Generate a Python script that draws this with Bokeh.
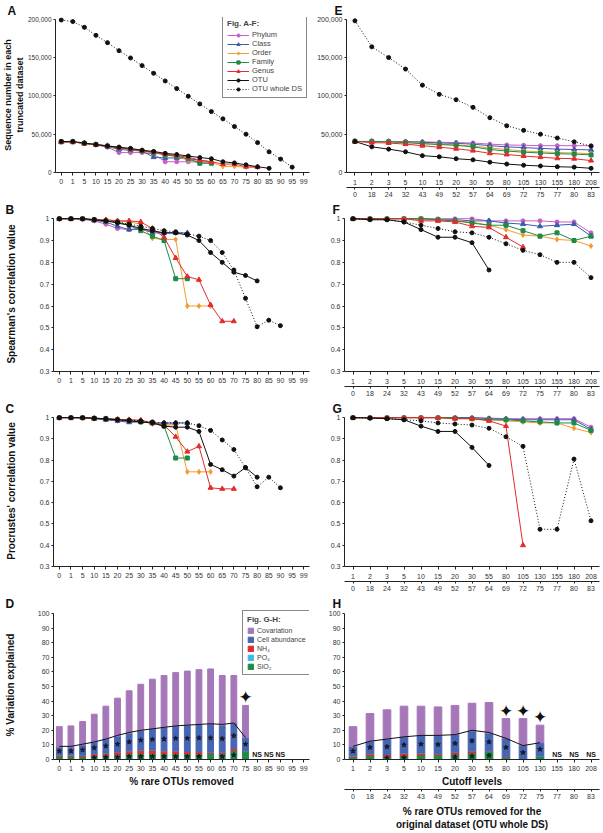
import math
from bokeh.plotting import figure
from bokeh.layouts import column, row
from bokeh.models import (FactorRange, Range1d, CategoricalAxis, FixedTicker,
                          NumeralTickFormatter, Legend, LegendItem, ColumnDataSource)
from bokeh.core.properties import value
from bokeh.embed import file_html
from bokeh.resources import INLINE

FONT = "Liberation Sans"

# ---------------- categories / tick labels ----------------
left_cats = ["0", "1", "5", "10", "15", "20", "25", "30", "35", "40", "45", "50",
             "55", "60", "65", "70", "75", "80", "85", "90", "95", "99"]
cutoff_cats = ["1", "2", "3", "5", "10", "15", "20", "30", "55", "80", "105",
               "130", "155", "180", "208"]
pct_removed = ["0", "18", "24", "32", "43", "49", "52", "57", "64", "69", "72",
               "75", "77", "80", "83"]

# ---------------- A: sequence numbers (left) ----------------
A_phylum = [40000, 40000, 38000, 36000, 33000, 26000, 26000, 26000, 24000, 14000, 14000, 14000, 13500, 13000]
A_class = [40000, 40000, 38000, 36000, 34000, 30000, 29000, 28000, 20000, 19000, 19000, 18000, 16000, 14000]
A_order = [40000, 40000, 38000, 36500, 34500, 32000, 30000, 28000, 26000, 23000, 21000, 16000, 15000, 13000, 8000, 8000, 7000, 7000]
A_family = [40000, 40000, 38000, 36500, 34500, 32000, 30000, 28000, 26000, 23000, 21000, 18000, 12000, 12000]
A_genus = [40000, 40000, 38000, 36500, 35000, 32500, 30500, 28500, 26500, 24000, 22000, 20000, 16000, 14000, 11000, 11000, 7500, 7000]
A_otu = [40500, 40500, 38500, 36500, 34500, 33000, 31500, 29000, 27500, 25000, 23500, 21500, 19500, 18000, 14000, 12500, 10000, 7500, 5500]
A_whole = [199000, 197000, 189500, 179000, 169500, 159000, 149500, 139500, 129500, 119500, 109500,
           99500, 89500, 79500, 70000, 60000, 50000, 39000, 27000, 17500, 7000]

# ---------------- B: Spearman (left) ----------------
B_phylum = [1, 1, 0.998, 0.99, 0.975, 0.955, 0.95, 0.95, 0.94, 0.935, 0.935]
B_class = [1, 1, 0.998, 0.992, 0.985, 0.965, 0.95, 0.955, 0.935, 0.935, 0.935, 0.935]
B_order = [1, 1, 1, 0.995, 0.995, 0.99, 0.985, 0.975, 0.91, 0.905, 0.905, 0.60, 0.60, 0.60]
B_family = [1, 1, 1, 0.995, 0.99, 0.985, 0.97, 0.945, 0.92, 0.90, 0.725, 0.725]
B_genus = [1, 1, 1, 0.995, 0.995, 0.99, 0.99, 0.985, 0.955, 0.915, 0.82, 0.735, 0.72, 0.605, 0.53, 0.53]
B_otu = [1, 1, 1, 0.995, 0.99, 0.98, 0.97, 0.955, 0.945, 0.935, 0.935, 0.925, 0.90, 0.845, 0.80, 0.755, 0.74, 0.715]
B_whole = [1, 1, 1, 0.995, 0.99, 0.985, 0.975, 0.965, 0.955, 0.945, 0.94, 0.93, 0.92, 0.90, 0.845,
           0.765, 0.635, 0.505, 0.535, 0.51]

# ---------------- C: Procrustes (left) ----------------
C_phylum = [1, 1, 0.998, 0.995, 0.99, 0.985, 0.982, 0.98, 0.975, 0.97, 0.97]
C_class = [1, 1, 0.998, 0.995, 0.99, 0.985, 0.978, 0.98, 0.975, 0.975, 0.975, 0.975]
C_order = [1, 1, 1, 0.997, 0.995, 0.992, 0.99, 0.985, 0.97, 0.965, 0.965, 0.745, 0.745, 0.745]
C_family = [1, 1, 1, 0.997, 0.995, 0.99, 0.985, 0.98, 0.975, 0.96, 0.81, 0.81]
C_genus = [1, 1, 1, 0.997, 0.995, 0.992, 0.99, 0.988, 0.975, 0.965, 0.91, 0.84, 0.865, 0.67, 0.665, 0.665]
C_otu = [1, 1, 1, 0.997, 0.994, 0.99, 0.985, 0.98, 0.975, 0.96, 0.955, 0.955, 0.935, 0.78, 0.755, 0.725, 0.765, 0.72]
C_whole = [1, 1, 1, 0.997, 0.995, 0.99, 0.988, 0.985, 0.98, 0.975, 0.975, 0.975, 0.962, 0.94, 0.895,
           0.85, 0.765, 0.675, 0.72, 0.67]

# ---------------- E: sequence numbers (right) ----------------
E_phylum = [40500, 40500, 40500, 40500, 40000, 39500, 39000, 38500, 37000, 36000, 35500, 35000, 35000, 35000, 35000]
E_class = [40500, 40500, 40500, 40000, 39500, 38500, 38000, 37000, 35000, 33500, 32500, 31500, 30500, 30000, 29500]
E_order = [40500, 40500, 40000, 39500, 38000, 37000, 36000, 34500, 32000, 30000, 28000, 27000, 26000, 25500, 24500]
E_family = [40500, 40500, 40000, 39000, 37500, 36500, 35500, 33500, 30000, 28000, 26500, 25500, 24500, 24000, 23000]
E_genus = [40500, 39000, 38500, 37000, 35000, 33000, 31000, 28500, 25000, 23500, 21500, 20000, 18500, 18000, 15500]
E_otu = [40500, 33500, 30500, 27000, 22000, 20500, 18000, 16500, 13500, 11000, 9500, 8500, 7500, 7000, 5500]
E_whole = [198000, 164000, 150000, 135000, 114000, 102000, 95000, 85000, 71500, 61000, 55000, 50000, 45000, 40000, 34500]

# ---------------- F: Spearman (right) ----------------
F_phylum = [1, 1, 1, 1, 1, 1, 1, 1, 0.99, 0.99, 0.99, 0.99, 0.985, 0.985, 0.935]
F_class = [1, 1, 1, 1, 1, 0.995, 0.995, 0.99, 0.99, 0.98, 0.975, 0.965, 0.97, 0.975, 0.92]
F_order = [1, 1, 1, 1, 0.995, 0.995, 0.99, 0.985, 0.97, 0.95, 0.925, 0.92, 0.905, 0.90, 0.875]
F_family = [1, 1, 1, 1, 1, 0.995, 0.99, 0.98, 0.97, 0.97, 0.945, 0.92, 0.935, 0.90, 0.92]
F_genus = [1, 1, 1, 1, 0.99, 0.99, 0.985, 0.965, 0.96, 0.915, 0.87]
F_otu = [1, 0.995, 0.995, 0.985, 0.95, 0.915, 0.915, 0.89, 0.765]
F_whole = [1, 0.998, 0.995, 0.985, 0.97, 0.955, 0.94, 0.935, 0.915, 0.885, 0.855, 0.835, 0.80, 0.80, 0.73]

# ---------------- G: Procrustes (right) ----------------
G_phylum = [1, 1, 1, 1, 1, 1, 1, 1, 0.998, 0.995, 0.995, 0.995, 0.995, 0.995, 0.955]
G_class = [1, 1, 1, 1, 1, 1, 1, 1, 0.995, 0.993, 0.99, 0.99, 0.99, 0.99, 0.945]
G_order = [1, 1, 1, 1, 1, 1, 0.995, 0.995, 0.99, 0.985, 0.98, 0.975, 0.975, 0.95, 0.93]
G_family = [1, 1, 1, 1, 1, 1, 0.998, 0.995, 0.99, 0.99, 0.985, 0.98, 0.975, 0.975, 0.94]
G_genus = [1, 1, 1, 1, 1, 1, 0.995, 0.995, 0.985, 0.96, 0.40]
G_otu = [1, 0.998, 0.995, 0.99, 0.96, 0.935, 0.935, 0.86, 0.775]
G_whole = [1, 0.998, 0.995, 0.99, 0.985, 0.975, 0.97, 0.965, 0.95, 0.91, 0.865, 0.475, 0.475, 0.805, 0.515]

# ---------------- D: variation partitioning (left) ----------------
D_sio2 = [2, 2, 2, 2.5, 3, 3, 4, 4, 4, 4, 4, 4, 4, 4, 4, 6, 6]
D_nh4 = [1, 1, 1, 1.5, 1.5, 2, 2, 2.5, 2.5, 2, 2, 1.5, 1.5, 1, 1, 1.5, 0]
D_po4 = [0] * 17
D_cell = [5.5, 5.5, 7, 8, 9.5, 11, 12, 13.5, 14.5, 16, 17, 18, 18.5, 19.5, 18.5, 17.5, 9]
D_cov = [14, 14.5, 16, 19, 22.5, 26, 29, 31.5, 34, 35.5, 36.5, 37, 37.5, 37.5, 34, 32.5, 22]
D_line = [9, 9, 10.5, 12, 14, 16.5, 18.5, 20, 21, 22, 23, 23.5, 24, 24.5, 24, 25, 15]
D_green_star = ["10", "15", "20", "25", "30", "35", "40", "45", "50", "55", "65", "70"]
D_sig = ["75"]
D_ns = ["80", "85", "90"]

# ---------------- H: variation partitioning (right) ----------------
H_sio2 = [1.5, 2.5, 2, 2.5, 3, 3, 3.5, 4.5, 5.5, 1.5, 0, 2.5]
H_nh4 = [1, 1.5, 1.5, 2, 1.5, 1, 1.5, 1.5, 0.5, 0.5, 0, 0]
H_po4 = [0] * 12
H_cell = [6.5, 8.5, 10.5, 11, 12, 12.5, 12, 13.5, 12, 12.5, 9.5, 9]
H_cov = [13.5, 19, 20, 21, 20, 19.5, 20, 19, 21, 13.5, 18.5, 12]
H_line = [9, 12.5, 14, 15.5, 16.5, 16.5, 17, 20, 18.5, 14.5, 9.5, 11.5]
H_green_star = ["3", "5", "20", "30", "55"]
H_sig = ["80", "105", "130"]
H_ns = ["155", "180", "208"]

series_names = ["Phylum", "Class", "Order", "Family", "Genus", "OTU", "OTU whole DS"]
COL = {"Phylum": "#C85EC8", "Class": "#3B5BA9", "Order": "#F39B2C", "Family": "#1D8B47",
       "Genus": "#E32B2B", "OTU": "#111111", "OTU whole DS": "#111111"}
MRK = {"Phylum": "circle", "Class": "triangle", "Order": "diamond", "Family": "square",
       "Genus": "triangle", "OTU": "circle", "OTU whole DS": "circle"}
SZ = {"Phylum": 4, "Class": 5, "Order": 5, "Family": 4, "Genus": 5, "OTU": 4, "OTU whole DS": 4}
SEG_COLORS = ["#1D8B47", "#D8302D", "#40B8E6", "#4666B4", "#A577B8"]  # SiO2, NH4, PO4, cell, cov


def style_axis(ax, standoff=2, tick_out=2):
    ax.axis_line_color = "#222222"
    ax.axis_line_width = 1
    ax.major_tick_line_color = "#222222"
    ax.major_tick_out = tick_out
    ax.major_tick_in = 0
    ax.minor_tick_line_color = None
    ax.major_label_text_font = FONT
    ax.major_label_text_font_size = "7px"
    ax.major_label_text_color = "#333333"
    ax.major_label_standoff = standoff
    ax.axis_label_text_font = FONT
    ax.axis_label_text_font_size = "10px"
    ax.axis_label_text_font_style = "bold"
    ax.axis_label_text_color = "#111111"
    ax.axis_label_standoff = 2


def make_fig(cats, y0, y1, w, h, mbl, mbr, mbt, mbb, letter, letter_offset):
    p = figure(x_range=FactorRange(factors=cats), y_range=Range1d(y0, y1),
               width=w, height=h, min_border_left=mbl, min_border_right=mbr,
               min_border_top=mbt, min_border_bottom=mbb,
               output_backend="svg", toolbar_location=None, title=letter)
    p.outline_line_color = None
    p.xgrid.visible = False
    p.ygrid.visible = False
    for ax in p.yaxis:
        style_axis(ax)
    for ax in p.xaxis:
        style_axis(ax, standoff=3, tick_out=3)
    p.title.text_font = FONT
    p.title.text_font_size = "12px"
    p.title.text_font_style = "bold"
    p.title.text_color = "#111111"
    p.title.align = "left"
    p.title.offset = letter_offset
    p.title.standoff = 0
    return p


def seq_axis(p):
    p.yaxis.ticker = FixedTicker(ticks=[0, 50000, 100000, 150000, 200000])
    p.yaxis.formatter = NumeralTickFormatter(format="0,0")
    p.yaxis.bounds = (0, 200000)


def corr_axis(p):
    p.yaxis.ticker = FixedTicker(ticks=[0.3, 0.4, 0.5, 0.6, 0.7, 0.8, 0.9, 1.0])
    p.yaxis.major_label_overrides = {1.0: "1"}
    p.yaxis.bounds = (0.3, 1.0)


def pct_axis(p):
    p.yaxis.ticker = FixedTicker(ticks=list(range(0, 101, 10)))
    p.yaxis.bounds = (0, 100)


def second_axis(p, label=None):
    p.extra_x_ranges = {"pct": FactorRange(factors=pct_removed)}
    ax2 = CategoricalAxis(x_range_name="pct")
    style_axis(ax2, standoff=2, tick_out=2)
    if label:
        ax2.axis_label = label
        ax2.axis_label_standoff = 4
    p.add_layout(ax2, "below")


def draw_lines(p, cats, data):
    rends = {}
    for name in series_names:
        ys = data[name]
        xs = cats[:len(ys)]
        dash = "1 2" if name == "OTU whole DS" else "solid"
        l = p.line(xs, ys, line_color=COL[name], line_width=1, line_dash=dash)
        s = p.scatter(xs, ys, marker=MRK[name], size=SZ[name],
                      fill_color=COL[name], line_color=COL[name])
        rends[name] = [l, s]
    return rends


def draw_bars(p, cats, segs, line_vals, green_star, sig, ns, width):
    n = len(segs[0])
    xs = cats[:n]
    src = ColumnDataSource(dict(x=xs, sio2=segs[0], nh4=segs[1], po4=segs[2], cell=segs[3], cov=segs[4]))
    rs = p.vbar_stack(["sio2", "nh4", "po4", "cell", "cov"], x="x", width=width,
                      color=SEG_COLORS, source=src)
    p.line(xs, line_vals, line_color="#111111", line_width=1)
    star_y = [segs[0][i] + segs[1][i] + segs[2][i] + segs[3][i] / 2 for i in range(n)]
    p.scatter(xs, star_y, marker="star", size=5, color="#1a1a2a")
    gy = [segs[0][xs.index(c)] / 2 for c in green_star]
    p.scatter(green_star, gy, marker="star", size=5, color="#1a1a2a")
    tot = [sum(s[i] for s in segs) for i in range(n)]
    sy = [tot[xs.index(c)] + 5.5 for c in sig]
    p.text(x=sig, y=sy, text=["\u2726"] * len(sig), text_font=value("DejaVu Sans"),
           text_font_size="17px", text_align="center", text_baseline="middle", text_color="#111111")
    p.text(x=ns, y=[3.5] * len(ns), text=["NS"] * len(ns), text_font=value(FONT),
           text_font_size="7px", text_font_style="bold", text_align="center",
           text_baseline="middle", text_color="#111111")
    return rs


def style_legend(leg, label_size, glyph, spacing, label_h):
    leg.title_text_font = FONT
    leg.title_text_font_size = "8px"
    leg.title_text_font_style = "bold"
    leg.title_standoff = 2
    leg.label_text_font = FONT
    leg.label_text_font_size = label_size
    leg.glyph_width = glyph[0]
    leg.glyph_height = glyph[1]
    leg.label_height = label_h
    leg.label_standoff = 3
    leg.spacing = spacing
    leg.padding = 4
    leg.margin = 0
    leg.border_line_color = "#111111"
    leg.border_line_width = 1.5


WL, WR = 314, 288
LB, LR = 53, 5
RB, RR = 30, 3
LOFF, ROFF = -48, -12

# ---------------- Row 1 ----------------
pA = make_fig(left_cats, 0, 202300, WL, 200, LB, LR, 17, 28, "A", LOFF)
seq_axis(pA)
pA.yaxis.axis_label = "Sequence number in each\ntruncated dataset"
pA.yaxis.axis_label_standoff = 0
pA.yaxis.axis_label_text_font_size = "9px"
pA.yaxis.major_label_text_font_size = "6.5px"
rA = draw_lines(pA, left_cats, {"Phylum": A_phylum, "Class": A_class, "Order": A_order,
                                "Family": A_family, "Genus": A_genus, "OTU": A_otu,
                                "OTU whole DS": A_whole})
legA = Legend(items=[LegendItem(label=n, renderers=rA[n]) for n in series_names],
              location=(167, 74), title="Fig. A-F:")
style_legend(legA, "7.5px", (22, 8), 0, 8)
pA.add_layout(legA)

pE = make_fig(cutoff_cats, 0, 202300, WR, 200, RB, RR, 17, 28, "E", ROFF)
seq_axis(pE)
pE.xaxis[0].major_label_standoff = 4
second_axis(pE)
draw_lines(pE, cutoff_cats, {"Phylum": E_phylum, "Class": E_class, "Order": E_order,
                             "Family": E_family, "Genus": E_genus, "OTU": E_otu,
                             "OTU whole DS": E_whole})

# ---------------- Row 2 ----------------
pB = make_fig(left_cats, 0.3, 1.01, WL, 199, LB, LR, 14, 28, "B", LOFF)
corr_axis(pB)
pB.yaxis.axis_label = "Spearman's correlation value"
pB.yaxis.axis_label_standoff = 20
draw_lines(pB, left_cats, {"Phylum": B_phylum, "Class": B_class, "Order": B_order,
                           "Family": B_family, "Genus": B_genus, "OTU": B_otu,
                           "OTU whole DS": B_whole})

pF = make_fig(cutoff_cats, 0.3, 1.01, WR, 199, RB, RR, 14, 28, "F", ROFF)
corr_axis(pF)
pF.xaxis[0].major_label_standoff = 4
second_axis(pF)
draw_lines(pF, cutoff_cats, {"Phylum": F_phylum, "Class": F_class, "Order": F_order,
                             "Family": F_family, "Genus": F_genus, "OTU": F_otu,
                             "OTU whole DS": F_whole})

# ---------------- Row 3 ----------------
pC = make_fig(left_cats, 0.3, 1.01, WL, 195, LB, LR, 13, 28, "C", LOFF)
corr_axis(pC)
pC.yaxis.axis_label = "Procrustes' correlation value"
pC.yaxis.axis_label_standoff = 20
draw_lines(pC, left_cats, {"Phylum": C_phylum, "Class": C_class, "Order": C_order,
                           "Family": C_family, "Genus": C_genus, "OTU": C_otu,
                           "OTU whole DS": C_whole})

pG = make_fig(cutoff_cats, 0.3, 1.01, WR, 195, RB, RR, 13, 28, "G", ROFF)
corr_axis(pG)
pG.xaxis[0].major_label_standoff = 4
second_axis(pG)
draw_lines(pG, cutoff_cats, {"Phylum": G_phylum, "Class": G_class, "Order": G_order,
                             "Family": G_family, "Genus": G_genus, "OTU": G_otu,
                             "OTU whole DS": G_whole})

# ---------------- Row 4 ----------------
pD = make_fig(left_cats, 0, 102, WL, 238, LB, LR, 14, 70, "D", LOFF)
pct_axis(pD)
pD.yaxis.axis_label = "% Variation explained"
pD.yaxis.axis_label_standoff = 19
pD.xaxis.axis_label = "% rare OTUs removed"
rsD = draw_bars(pD, left_cats, [D_sio2, D_nh4, D_po4, D_cell, D_cov], D_line,
                D_green_star, D_sig, D_ns, 0.5)
legD = Legend(items=[LegendItem(label="Covariation", renderers=[rsD[4]]),
                     LegendItem(label="Cell abundance", renderers=[rsD[3]]),
                     LegendItem(label="NH\u2084", renderers=[rsD[1]]),
                     LegendItem(label="PO\u2084", renderers=[rsD[2]]),
                     LegendItem(label="SiO\u2082", renderers=[rsD[0]])],
              location=(189, 84), title="Fig. G-H:")
style_legend(legD, "7px", (7, 7), 1, 8)
pD.add_layout(legD)

pH = make_fig(cutoff_cats, 0, 102, WR, 238, RB, RR, 14, 70, "H", ROFF)
pct_axis(pH)
pH.xaxis.axis_label = "Cutoff levels"
second_axis(pH, "% rare OTUs removed for the\noriginal dataset (OTU whole DS)")
draw_bars(pH, cutoff_cats, [H_sio2, H_nh4, H_po4, H_cell, H_cov], H_line,
          H_green_star, H_sig, H_ns, 0.45)

layout = column(row(pA, pE), row(pB, pF), row(pC, pG), row(pD, pH))

open("out.html", "w").write(file_html(layout, INLINE))
